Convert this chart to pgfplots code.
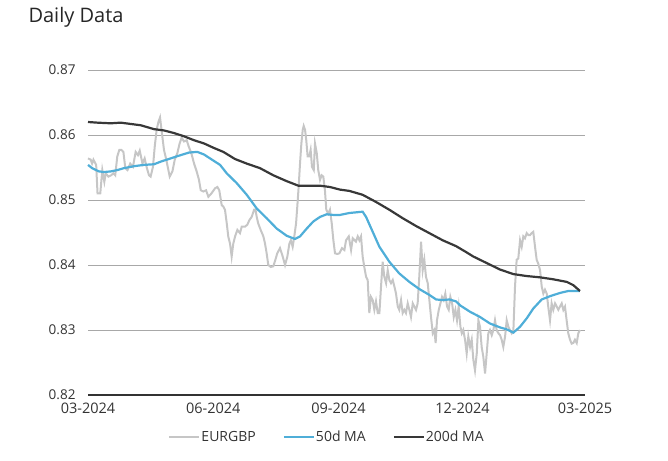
\documentclass[border=0pt]{standalone}
\usepackage{fontspec}
\setmainfont{Open Sans}
\usepackage{pgfplots}
\pgfplotsset{compat=1.18}
\definecolor{spotc}{HTML}{C6C6C6}
\definecolor{ma50}{HTML}{4FAED8}
\definecolor{ma200}{HTML}{383838}
\definecolor{gridc}{HTML}{A8A8A8}
\begin{document}
\begin{tikzpicture}
\useasboundingbox (0,0) rectangle (668pt,460pt);
\node[anchor=base west, font=\fontsize{20}{24}\selectfont, text=black!85] at (25pt,437pt) {Daily Data};
\begin{axis}[
  at={(88pt,65pt)}, anchor=south west,
  scale only axis, width=497pt, height=325pt,
  xmin=0, xmax=365, ymin=0.82, ymax=0.87,
  xtick={0,92,184,275,365},
  xticklabels={03-2024,06-2024,09-2024,12-2024,03-2025},
  ytick={0.82,0.83,0.84,0.85,0.86,0.87},
  yticklabel style={/pgf/number format/fixed,/pgf/number format/precision=2,/pgf/number format/fixed zerofill},
  /pgf/number format/assume math mode=true,
  tick label style={font=\fontsize{13.5}{16}\selectfont, text=black!80},
  xticklabel style={yshift=-4pt, font=\fontsize{14.5}{17}\selectfont},
  yticklabel style={xshift=-9pt},
  axis lines*=left,
  y axis line style={draw=none},
  x axis line style={line width=1.6pt, color=black!80},
  tick style={draw=none},
  ymajorgrids, grid style={gridc, line width=0.9pt},
  clip=false,
  legend columns=3,
  legend style={at={(0.48,-0.13)}, anchor=center, draw=none, fill=none,
    font=\fontsize{14}{16}\selectfont, text=black!80,
    /tikz/every even column/.append style={column sep=26pt},
    nodes={inner xsep=1pt},
    inner sep=0pt},
  legend image code/.code={\draw[#1] (0pt,0pt) -- (30pt,0pt);},
]
\addplot[spotc, line width=2pt] coordinates {
(0,0.8564)(2,0.8562)(3,0.8556)(4,0.8562)(6,0.8554)(7,0.8510)(9,0.8510)(10.5,0.8546)(12,0.8528)(13,0.8541)(15,0.8536)(17,0.8538)(18.6,0.8541)(20,0.8538)(21.5,0.8567)(23,0.8577)(24.5,0.8577)(26,0.8574)(27.4,0.8549)(29,0.8546)(31,0.8556)(33,0.8551)(35,0.8574)(36.7,0.8569)(38,0.8576)(40,0.8556)(41.6,0.8564)(43,0.8551)(44.8,0.8538)(46,0.8536)(47.7,0.8551)(49,0.8582)(50.4,0.8608)(51.7,0.8620)(52.9,0.8627)(54,0.8608)(55.8,0.8577)(57.5,0.8562)(60,0.8536)(62,0.8544)(63.7,0.8562)(65.6,0.8572)(67.3,0.8587)(68.8,0.8596)(70.5,0.8590)(72.5,0.8592)(74,0.8582)(75.9,0.8572)(77.9,0.8556)(79.8,0.8544)(81.5,0.8531)(82.8,0.8515)(84.7,0.8513)(86.7,0.8515)(88.4,0.8505)(90.6,0.8510)
(93.3,0.8518)(95,0.8520)(96.4,0.8515)(98.2,0.8492)(99.4,0.8490)(100.6,0.8485)(101.9,0.8464)(103,0.8444)(104.3,0.8433)(105.5,0.8413)(106.7,0.8433)(108,0.8444)(109.7,0.8454)(111.6,0.8449)(112.9,0.8459)(115.3,0.8459)(117,0.8462)(118.5,0.8469)(120.2,0.8474)(122,0.8485)(123,0.8485)(123.9,0.8474)(125,0.8464)(126.8,0.8454)(128.8,0.8444)(130,0.8433)(131.2,0.8418)(132.4,0.8400)(134.2,0.8397)(136.1,0.8398)(137.6,0.8408)(139,0.8418)(141,0.8426)(143,0.8413)(144.7,0.8400)(146.4,0.8413)(147.9,0.8433)(149,0.8438)(150.3,0.8428)(151.5,0.8444)(152.8,0.8464)(153.7,0.8490)(154.7,0.8520)(155.7,0.8556)(156.7,0.8587)(157.7,0.8608)(158.4,0.8614)(159.4,0.8608)(160.3,0.8592)(161.3,0.8567)(162.5,0.8567)(163.5,0.8577)(164.5,0.8551)(165.8,0.8546)(166.7,0.8587)(168,0.8572)(169.1,0.8546)(170.4,0.8531)(171.6,0.8538)(172.8,0.8536)(174,0.8515)(175,0.8485)(176.5,0.8479)(177.7,0.8485)(179,0.8464)(180.2,0.8438)(181.4,0.8418)(183.1,0.8417)
(184.6,0.8418)(186.5,0.8426)(188.3,0.8423)(189.5,0.8438)(191.5,0.8444)(193.2,0.8423)(194.4,0.8441)(196.8,0.8436)(198.1,0.8444)(199.3,0.8438)(200.5,0.8444)(201.7,0.8413)(202.9,0.8397)(204.2,0.8382)(205.4,0.8377)(206.6,0.8326)(207.8,0.8351)(209.1,0.8346)(210.3,0.8331)(211.5,0.8344)(212.8,0.8326)(214,0.8326)(215.2,0.8367)(216.4,0.8405)(217.6,0.8382)(218.9,0.8372)(220.1,0.8392)(221.3,0.8377)(222.5,0.8372)(223.8,0.8377)(225,0.8367)(226.2,0.8356)(227.5,0.8336)(228.6,0.8331)(229.9,0.8346)(231.1,0.8326)(232.3,0.8331)(233.5,0.8326)(234.8,0.8341)(236,0.8331)(237.2,0.8320)(238.5,0.8341)(239.7,0.8336)(240.9,0.8331)(242.1,0.8341)(243.3,0.8382)(244.6,0.8436)(245.8,0.8392)(247,0.8408)(248.2,0.8382)(249.5,0.8372)(250.7,0.8346)(251.9,0.8320)(253.2,0.8295)(254.4,0.8300)(255.3,0.8280)(256.3,0.8315)(257.6,0.8331)(258.8,0.8341)(260,0.8351)(261.2,0.8346)(262.4,0.8356)(263.7,0.8336)(264.9,0.8331)(266.1,0.8351)(267.4,0.8341)(268.6,0.8320)(269.8,0.8331)(271,0.8315)(272.2,0.8336)(273.5,0.8305)(274.5,0.8295)(275.6,0.8300)
(276.9,0.8285)(278.1,0.8264)(279.3,0.8290)(280.6,0.8274)(281.8,0.8285)(283,0.8254)(284.2,0.8238)(285.5,0.8264)(286.7,0.8315)(287.9,0.8305)(289.1,0.8274)(290.3,0.8259)(291.6,0.8233)(292.8,0.8264)(294,0.8295)(295.2,0.8300)(296.5,0.8292)(297.7,0.8300)(298.9,0.8315)(300.1,0.8300)(301.4,0.8295)(302.6,0.8292)(303.8,0.8285)(305,0.8274)(306.3,0.8290)(307.5,0.8315)(308.7,0.8305)(309.9,0.8300)(311.2,0.8295)(312.4,0.8300)(313.6,0.8367)(314.8,0.8408)(316,0.8410)(317.3,0.8438)(318.5,0.8428)(319.7,0.8444)(320.9,0.8441)(322.2,0.8449)(323.4,0.8446)(324.6,0.8446)(325.8,0.8449)(327,0.8451)(328.3,0.8428)(329.5,0.8408)(330.7,0.8402)(332,0.8392)(333.2,0.8367)(334.4,0.8356)(335.6,0.8362)(336.9,0.8356)(338,0.8336)(339.3,0.8315)(340.5,0.8341)(341.7,0.8331)(343,0.8341)(344.2,0.8336)(345.4,0.8331)(346.6,0.8336)(347.9,0.8341)(349.1,0.8331)(350.3,0.8336)(351.5,0.8315)(352.7,0.8295)(354,0.8285)(355.2,0.8279)(356.4,0.8280)(357.6,0.8285)(358.9,0.8280)(360.1,0.8295)(361.3,0.8300)
};
\addlegendentry{EURGBP}
\addplot[ma50, line width=2.2pt] coordinates {
(0,0.8554)(3,0.8549)(8,0.8544)(11.7,0.8543)(16.7,0.8544)(21.5,0.8546)(26.4,0.8549)(33.8,0.8552)(41,0.8554)(48.5,0.8555)(53.4,0.8559)(60.7,0.8564)(68,0.8569)(74.2,0.8573)(80.3,0.8574)(85.2,0.8570)(89.6,0.8564)(97,0.8554)(101.9,0.8541)(109.2,0.8526)(116.6,0.8508)(123.9,0.8487)(131.2,0.8472)(138.6,0.8456)(145.9,0.8445)(152,0.8440)(155.7,0.8444)(160.6,0.8456)(165.5,0.8467)(170.4,0.8474)(175.3,0.8478)(180.2,0.8477)(185,0.8477)(191.9,0.8480)(201.7,0.8482)(204.2,0.8474)(209.1,0.8451)(214,0.8428)(221.3,0.8405)(228.6,0.8387)(236,0.8374)(243.3,0.8363)(250.7,0.8354)(255.6,0.8347)(260.5,0.8346)(265.4,0.8347)(270.3,0.8344)(273.2,0.8338)(280.6,0.8328)(287.9,0.8320)(295.2,0.8310)(302.6,0.8304)(307.5,0.8301)(312.4,0.8296)(317.3,0.8305)(322.2,0.8318)(327,0.8333)(333.2,0.8347)(339.3,0.8352)(346.6,0.8357)(352.7,0.8360)(357.7,0.8360)(361.3,0.8360)
};
\addlegendentry{50d MA}
\addplot[ma200, line width=2.2pt] coordinates {
(0,0.8620)(6.8,0.8619)(16.7,0.8618)(24,0.8619)(31.3,0.8617)(38.7,0.8615)(43.6,0.8612)(48.5,0.8609)(55.8,0.8607)(63.2,0.8603)(70.5,0.8598)(77.8,0.8592)(85.2,0.8587)(92.5,0.8580)(99.4,0.8574)(108,0.8563)(116.6,0.8556)(126.3,0.8549)(136.1,0.8538)(145.9,0.8529)(154.5,0.8522)(163,0.8522)(170.4,0.8522)(177.7,0.8520)(185,0.8516)(191.9,0.8514)(201.7,0.8508)(211.5,0.8497)(221.3,0.8485)(231.1,0.8472)(240.9,0.8460)(250.7,0.8449)(260.5,0.8438)(270.3,0.8429)(277.6,0.8420)(283,0.8413)(292.8,0.8403)(302.6,0.8393)(312.4,0.8386)(322.2,0.8383)(332,0.8381)(341.7,0.8378)(351.6,0.8374)(356.4,0.8369)(361.3,0.8360)
};
\addlegendentry{200d MA}
\end{axis}
\end{tikzpicture}
\end{document}
